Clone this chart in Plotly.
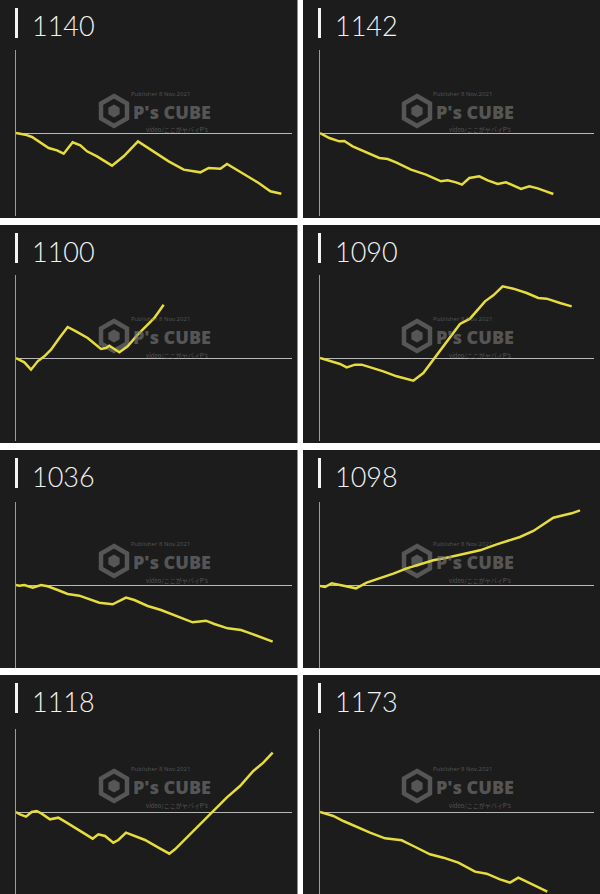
import math
import plotly.graph_objects as go

W, H = 600, 894

# ---------------- data (games played vs. coin difference) ----------------
labels = ["1140", "1142", "1100", "1090", "1036", "1098", "1118", "1173"]

games_1140 = [0, 280, 480, 720, 980, 1230, 1430, 1700, 1930, 2130, 2430, 2880, 3230, 3660,
              4080, 4580, 5030, 5280, 5530, 5780, 6130, 6330, 6880, 7280, 7630, 7960]
diff_1140 = [0, -100, -240, -560, -900, -1040, -1240, -560, -740, -1100, -1400, -1960, -1400, -500,
             -1060, -1700, -2200, -2300, -2360, -2100, -2140, -1860, -2500, -3000, -3500, -3640]

games_1142 = [0, 280, 580, 730, 980, 1380, 1780, 2030, 2280, 2730, 3180, 3630, 3830, 4080,
              4260, 4480, 4780, 5030, 5330, 5580, 5830, 6030, 6280, 6530, 6780, 7000]
diff_1142 = [0, -300, -500, -480, -800, -1160, -1500, -1560, -1760, -2200, -2500, -2900, -2840, -2960,
             -3100, -2700, -2600, -2840, -3060, -2960, -3200, -3360, -3200, -3320, -3500, -3660]

games_1100 = [0, 250, 450, 650, 850, 1050, 1300, 1550, 1800, 2150, 2550, 2700, 2800, 2900,
              3100, 3350, 3650, 3950, 4150, 4430]
diff_1100 = [0, -260, -700, -200, 100, 500, 1200, 1860, 1600, 1200, 540, 600, 740, 600,
             340, 700, 1400, 2000, 2400, 3200]

games_1090 = [0, 400, 600, 800, 1050, 1250, 1500, 1900, 2300, 2800, 3100, 3400, 3800, 4200,
              4500, 4950, 5200, 5480, 5800, 6200, 6550, 6800, 7200, 7550]
diff_1090 = [0, -240, -360, -560, -400, -400, -540, -800, -1100, -1360, -900, -100, 1000, 2040,
             2360, 3400, 3760, 4300, 4160, 3900, 3600, 3560, 3300, 3100]

games_1036 = [0, 100, 250, 500, 750, 950, 1250, 1550, 1900, 2200, 2500, 2900, 3100, 3300,
              3550, 3950, 4350, 4850, 5300, 5700, 5950, 6350, 6750, 6950, 7350, 7700]
diff_1036 = [0, -40, 0, -160, 0, -80, -300, -540, -640, -840, -1060, -1160, -960, -760,
             -900, -1260, -1500, -1900, -2240, -2140, -2340, -2600, -2700, -2840, -3160, -3400]

games_1098 = [0, 150, 350, 700, 1080, 1400, 1800, 2200, 2600, 3000, 3400, 3800, 4200, 4800,
              5300, 5600, 6000, 6400, 6700, 7000, 7300, 7550, 7800]
diff_1098 = [-60, -120, 100, -60, -200, 140, 400, 680, 1000, 1240, 1480, 1640, 1800, 2080,
             2440, 2640, 2880, 3240, 3640, 4040, 4180, 4300, 4480]

games_1118 = [0, 120, 300, 470, 620, 770, 1020, 1270, 1520, 1820, 2070, 2300, 2470, 2670, 2920,
              3070, 3300, 3520, 3870, 4220, 4600, 4770, 5120, 5520, 5920, 6320, 6720, 7120, 7420, 7700]
diff_1118 = [0, -140, -280, 0, 60, -100, -440, -340, -640, -1000, -1340, -1600, -1340, -1440, -1840,
             -1680, -1240, -1400, -1680, -2080, -2500, -2240, -1540, -740, 60, 860, 1560, 2460, 2960, 3560]

games_1173 = [0, 150, 400, 700, 1100, 1500, 1950, 2200, 2450, 2800, 3300, 3700, 4150, 4650,
              5000, 5400, 5700, 5950, 6200, 6500, 6820]
diff_1173 = [0, -100, -240, -540, -900, -1240, -1580, -1640, -1700, -2040, -2540, -2740, -3040, -3580,
             -3700, -4040, -4240, -3940, -4180, -4440, -4780]

series = [
    (games_1140, diff_1140), (games_1142, diff_1142),
    (games_1100, diff_1100), (games_1090, diff_1090),
    (games_1036, diff_1036), (games_1098, diff_1098),
    (games_1118, diff_1118), (games_1173, diff_1173),
]

# ---------------- layout geometry (pixels) ----------------
col_left = [0, 303]
col_right = [297.5, 600]
row_top = [0, 225, 450, 675]
row_bottom = [218, 443, 668, 894]
plot_x = [(16, 292), (320, 594)]
zero_y = [133, 358, 585, 812]
HALF = 83
G_PER_PX = 30
C_PER_PX = 60

PANEL_BG = "#1c1c1c"
LINE_COLOR = "#e6dc3c"
WM = "rgba(125,125,125,0.6)"


def px(x):
    return x / W


def py(y):
    return 1 - y / H


def hexagon(cx, cy, rad):
    pts = []
    for k in range(6):
        a = math.radians(90 - 60 * k)
        pts.append((cx + rad * math.cos(a), cy - rad * math.sin(a)))
    return "M " + " L ".join(f"{px(a):.5f},{py(b):.5f}" for a, b in pts) + " Z"


fig = go.Figure()
shapes = []
annotations = []
layout_axes = {}

for i, (g, d) in enumerate(series):
    r, c = divmod(i, 2)
    L, R = col_left[c], col_right[c]
    T, B = row_top[r], row_bottom[r]
    x0, x1 = plot_x[c]
    z = zero_y[r]
    top = z - HALF
    bot = min(z + HALF, B)

    # panel background
    shapes.append(dict(type="rect", xref="paper", yref="paper", x0=px(L), x1=px(R),
                       y0=py(B), y1=py(T), fillcolor=PANEL_BG, line=dict(width=0), layer="below"))

    # label bar + text
    shapes.append(dict(type="rect", xref="paper", yref="paper", x0=px(L + 15), x1=px(L + 18),
                       y0=py(T + 38), y1=py(T + 8), fillcolor="#f4f4f4", line=dict(width=0)))
    annotations.append(dict(text=labels[i], xref="paper", yref="paper", x=px(L + 30), y=py(T + 26),
                            xanchor="left", yanchor="middle", showarrow=False,
                            font=dict(family="Lato", size=27, color="#f2f2f2", weight=300)))

    # watermark (P's CUBE logo)
    cx, cy = L + 114, T + 111
    shapes.append(dict(type="path", xref="paper", yref="paper", path=hexagon(cx, cy, 15),
                       line=dict(color=WM, width=4.5), layer="below"))
    shapes.append(dict(type="path", xref="paper", yref="paper", path=hexagon(cx, cy, 6.5),
                       fillcolor=WM, line=dict(width=0), layer="below"))
    annotations.append(dict(text="P's CUBE", xref="paper", yref="paper", x=px(L + 172), y=py(T + 112),
                            xanchor="center", yanchor="middle", showarrow=False,
                            font=dict(family="Open Sans", size=18, color=WM, weight=800)))
    annotations.append(dict(text="Publisher 8 Nov.2021", xref="paper", yref="paper", x=px(L + 160), y=py(T + 94),
                            xanchor="center", yanchor="middle", showarrow=False,
                            font=dict(family="Open Sans", size=6, color=WM)))
    annotations.append(dict(text="video/ここがヤバイP's", xref="paper", yref="paper", x=px(L + 177), y=py(T + 130),
                            xanchor="center", yanchor="middle", showarrow=False,
                            font=dict(family="Noto Sans CJK JP", size=6, color=WM)))

    n = "" if i == 0 else str(i + 1)
    layout_axes["xaxis" + n] = dict(domain=[px(x0), px(x1)], range=[0, (x1 - x0) * G_PER_PX],
                                    showgrid=False, zeroline=False, showline=False,
                                    showticklabels=False, ticks="", anchor="y" + n, fixedrange=True)
    layout_axes["yaxis" + n] = dict(domain=[py(bot), py(top)],
                                    range=[-(bot - z) * C_PER_PX, (z - top) * C_PER_PX],
                                    showgrid=False, showticklabels=False, ticks="",
                                    showline=True, linecolor="#9c9c9c", linewidth=1,
                                    zeroline=True, zerolinecolor="#b8b8b8", zerolinewidth=1,
                                    anchor="x" + n, fixedrange=True)

    fig.add_trace(go.Scatter(x=g, y=d, mode="lines", xaxis="x" + n, yaxis="y" + n,
                             line=dict(color=LINE_COLOR, width=2.5), showlegend=False,
                             hoverinfo="skip", cliponaxis=True))

fig.update_layout(width=W, height=H, margin=dict(l=0, r=0, t=0, b=0),
                  paper_bgcolor="#ffffff", plot_bgcolor="rgba(0,0,0,0)",
                  shapes=shapes, annotations=annotations, showlegend=False, **layout_axes)

fig.write_html("out.html", config={"displayModeBar": False},
               post_script="document.body.style.margin='0';document.body.style.padding='0';"
                           "document.documentElement.style.overflow='hidden';")
